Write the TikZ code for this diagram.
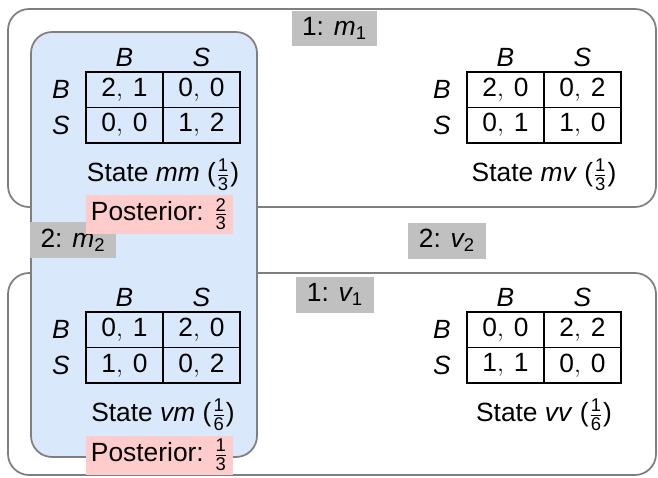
\documentclass[tikz,border=0pt]{standalone}
\usepackage{amsmath}
\usepackage{fontspec}
\setmainfont{Liberation Sans}
\definecolor{edgegray}{HTML}{7F7F7F}
\definecolor{statefill}{HTML}{DAE8FC}
\definecolor{playerfill}{HTML}{C0C0C0}
\definecolor{postfill}{HTML}{FFCCCC}
\newcommand{\pay}[2]{$\text{#1},\:\text{#2}$}
\newcommand{\frc}[2]{$\tfrac{\text{#1}}{\text{#2}}$}
% one 2x2 game: name, top-left corner of the grid, four payoffs, state, prob
\newcommand{\game}[9]{%
  \node[cell] (#1BB) at (#2+38.5,#3+17.75) {#4};
  \node[cell] (#1BS) at (#2+115.5,#3+17.75) {#5};
  \node[cell] (#1SB) at (#2+38.5,#3+53.25) {#6};
  \node[cell] (#1SS) at (#2+115.5,#3+53.25) {#7};
  \node (#1colB) at (#2+38.5,#3-15) {\textit{B}};
  \node (#1colS) at (#2+115.5,#3-15) {\textit{S}};
  \node (#1rowB) at (#2-25,#3+17.75) {\textit{B}};
  \node (#1rowS) at (#2-25,#3+53.25) {\textit{S}};
  \node (#1state) at (#2+77,#3+103) {State \textit{#8} (\frc{1}{#9})};
}

\begin{document}
\begin{tikzpicture}[x=0.02cm,y=-0.02cm,font=\fontsize{15}{18}\selectfont,
  cell/.style={draw,line width=0.8pt,minimum width=1.54cm,minimum height=0.71cm,inner sep=0pt},
  info/.style={draw=edgegray,line width=1pt,rounded corners=12pt},
  player/.style={fill=playerfill,inner xsep=6pt,minimum height=0.72cm},
  post/.style={fill=postfill,inner xsep=3pt,inner ysep=1pt,minimum height=0.78cm}]
\useasboundingbox (0,0) rectangle (658,477);
% information sets of player 1
\draw[info] (8,9) rectangle (656,207);
\draw[info] (8,273) rectangle (656,475);
% information set m of player 2
\draw[info,fill=statefill] (31,32) rectangle (257,457);
\game{mm}{86}{72}{\pay21}{\pay00}{\pay00}{\pay12}{mm}{3}
\game{mv}{467}{72}{\pay20}{\pay02}{\pay01}{\pay10}{mv}{3}
\game{vm}{86}{312}{\pay01}{\pay20}{\pay10}{\pay02}{vm}{6}
\game{vv}{467}{312}{\pay00}{\pay22}{\pay11}{\pay00}{vv}{6}
\node[player] (Mone) at (334.5,28.5) {1: $\textit{m}_{\text{1}}$};
\node[player] (Mtwo) at (73,240) {2: $\textit{m}_{\text{2}}$};
\node[player] (Vtwo) at (447,240.5) {2: $\textit{v}_{\text{2}}$};
\node[player] (Vone) at (335,294.5) {1: $\textit{v}_{\text{1}}$};
\node[post] (postmm) at (159.5,214) {Posterior: \frc{2}{3}};
\node[post] (postvm) at (159.5,455) {Posterior: \frc{1}{3}};
\end{tikzpicture}
\end{document}
